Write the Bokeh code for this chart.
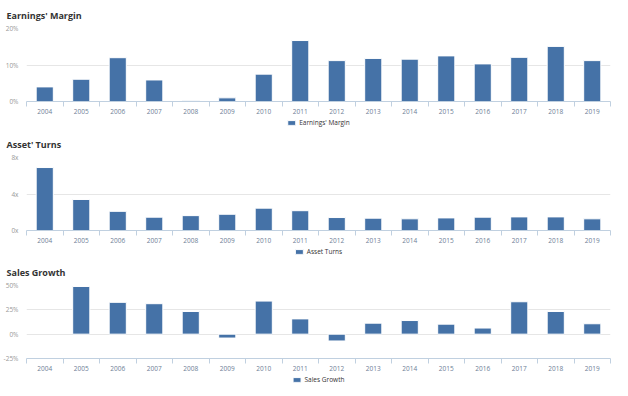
from bokeh.plotting import figure
from bokeh.models import Range1d, FixedTicker, Legend, LegendItem, PrintfTickFormatter, BasicTickFormatter
from bokeh.layouts import column
from bokeh.embed import file_html
from bokeh.resources import INLINE

years = list(range(2004, 2020))
earnings_margin = [4.0, 6.1, 12.0, 5.9, 0.2, 1.0, 7.5, 16.7, 11.2, 11.8, 11.6, 12.5, 10.3, 12.1, 15.1, 11.2]
asset_turns = [6.9, 3.4, 2.1, 1.46, 1.63, 1.78, 2.45, 2.17, 1.42, 1.35, 1.28, 1.38, 1.46, 1.49, 1.49, 1.28]
sales_growth = [float("nan"), 49.0, 32.7, 31.3, 23.3, -4.0, 34.0, 15.7, -7.0, 11.3, 14.0, 10.3, 6.3, 33.3, 23.3, 10.7]

panels = [
    ("Earnings' Margin", earnings_margin, "Earnings' Margin", (0, 20), [0, 10, 20], "%d%%"),
    ("Asset' Turns", asset_turns, "Asset Turns", (0, 8), [0, 4, 8], "%dx"),
    ("Sales Growth", sales_growth, "Sales Growth", (-25, 50), [-25, 0, 25, 50], "%d%%"),
]

BAR = "#4572a7"
AXIS = "#c0d0e0"
GRID = "#e6e6e6"
FONT = "Open Sans"
SMALL = "6.5px"
TOP_BORDERS = [0, 29, 27]

items_layout = []
for i, (title, vals, label, (y0, y1), yt, fmt) in enumerate(panels):
    p = figure(width=612, frame_height=73, output_backend="svg", toolbar_location=None,
               x_range=Range1d(years[0] - 0.5, years[-1] + 0.5), y_range=Range1d(y0, y1),
               min_border_left=4, min_border_right=2, min_border_top=TOP_BORDERS[i], min_border_bottom=0)
    p.outline_line_color = None
    p.title.text = title
    p.title.text_font = FONT
    p.title.text_font_size = "9px"
    p.title.text_font_style = "bold"
    p.title.text_color = "#333333"
    p.title.align = "left"
    p.title.offset = -20
    p.title.standoff = 13

    p.vbar(x=years, top=vals, bottom=0, width=0.47, fill_color=BAR, line_color="white", line_width=1)

    xa = p.xaxis[0]
    xa.ticker = FixedTicker(ticks=years, minor_ticks=[y - 0.5 for y in years] + [years[-1] + 0.5])
    xa.formatter = BasicTickFormatter(use_scientific=False)
    xa.axis_line_color = AXIS
    xa.major_tick_line_color = None
    xa.minor_tick_line_color = AXIS
    xa.minor_tick_out = 5
    xa.minor_tick_in = 0
    xa.major_label_text_font = FONT
    xa.major_label_text_font_size = SMALL
    xa.major_label_text_color = "#6e7e96"
    xa.major_label_standoff = 1

    ya = p.yaxis[0]
    ya.ticker = FixedTicker(ticks=yt)
    ya.formatter = PrintfTickFormatter(format=fmt)
    ya.axis_line_color = None
    ya.major_tick_line_color = None
    ya.minor_tick_line_color = None
    ya.major_label_text_font = FONT
    ya.major_label_text_font_size = SMALL
    ya.major_label_text_color = "#999999"
    ya.major_label_standoff = 2

    p.xgrid.visible = False
    p.ygrid.grid_line_color = GRID

    # legend strip below the chart (its own small figure, swatch from an out-of-view copy of the bars)
    lg = figure(width=612, height=12, output_backend="svg", toolbar_location=None,
                x_range=Range1d(years[0] - 0.5, years[-1] + 0.5), y_range=Range1d(1000, 1001),
                x_axis_location=None, y_axis_location=None,
                min_border_left=0, min_border_right=0, min_border_top=0, min_border_bottom=0)
    lg.outline_line_color = None
    lg.grid.visible = False
    lr = lg.vbar(x=years, top=vals, bottom=0, width=0.47, fill_color=BAR, line_color="white", line_width=1)
    legend = Legend(items=[LegendItem(label=label, renderers=[lr])], orientation="horizontal",
                    location="center", label_text_font=FONT, label_text_font_size=SMALL,
                    label_text_color="#333333", glyph_width=10, glyph_height=6,
                    label_standoff=3, padding=0, margin=0, border_line_color=None,
                    background_fill_alpha=0, label_height=8)
    lg.add_layout(legend)
    items_layout.extend([p, lg])

layout = column(*items_layout, spacing=0)
open("out.html", "w").write(file_html(layout, INLINE))
